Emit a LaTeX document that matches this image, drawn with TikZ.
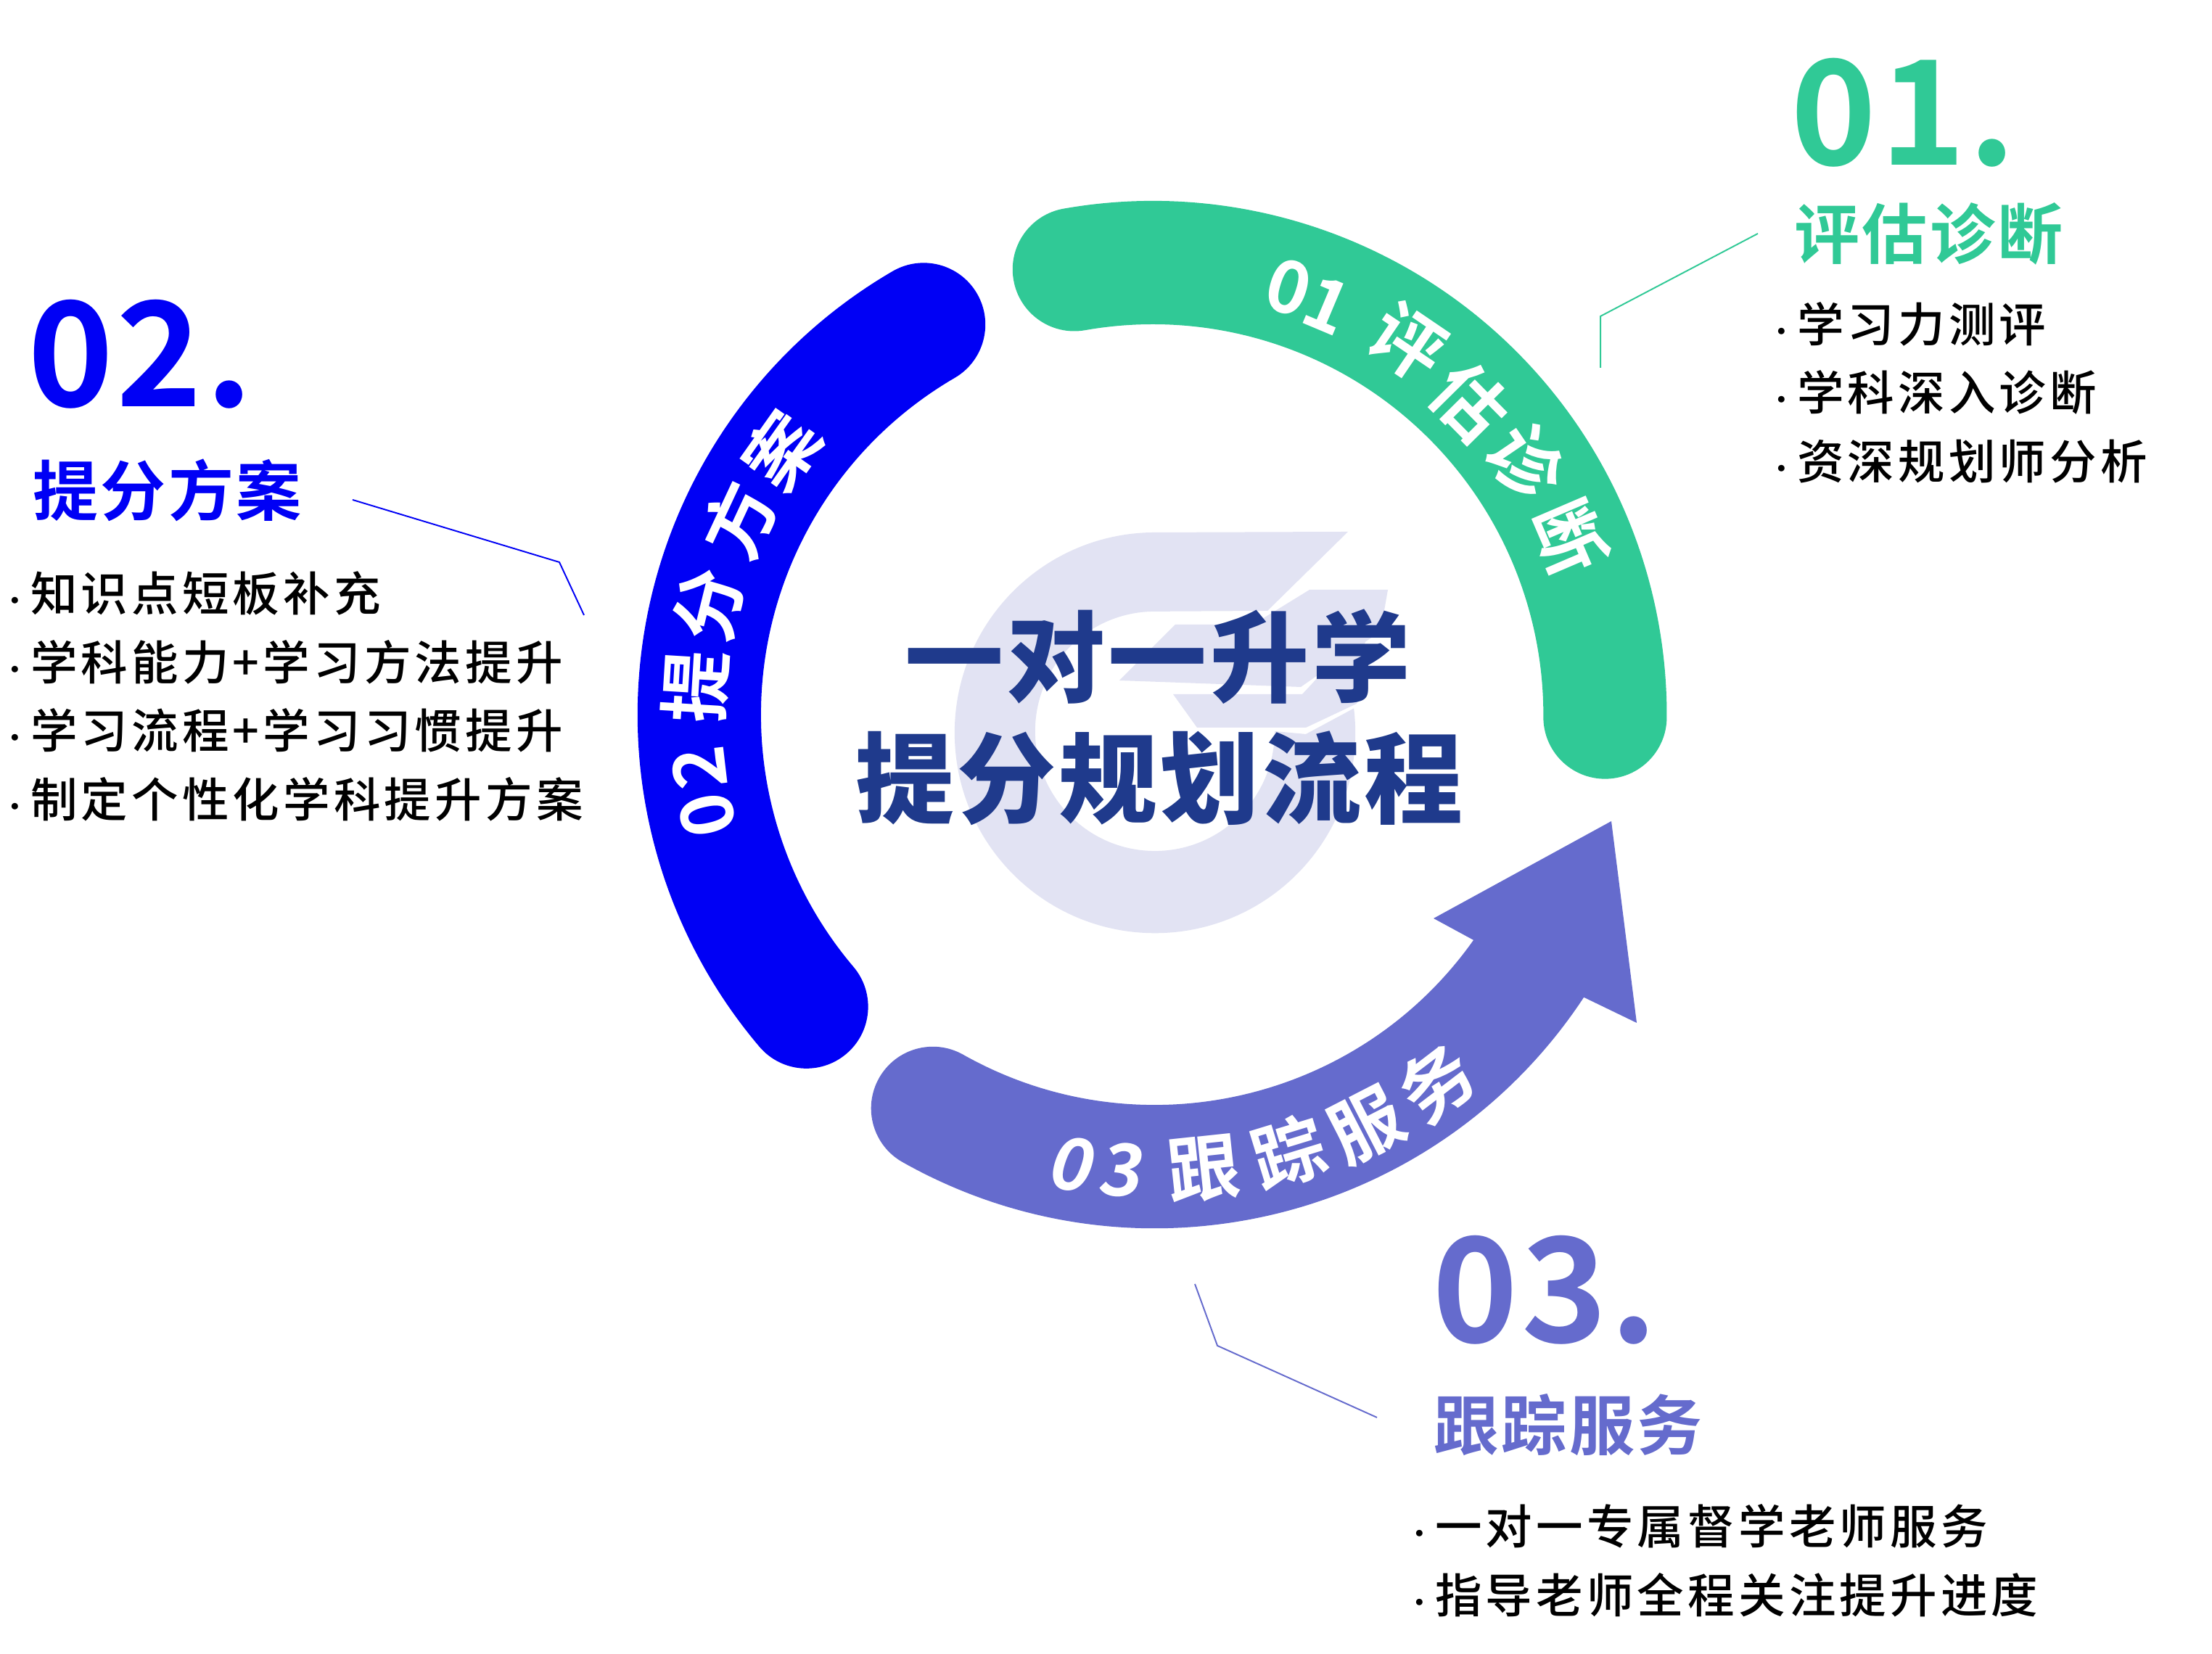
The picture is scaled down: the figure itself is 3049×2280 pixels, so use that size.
\documentclass[tikz,border=0pt]{standalone}
\usepackage{fontspec}
\setmainfont{Noto Sans CJK SC}
\newfontfamily\ftitle[LetterSpace=3]{Noto Sans CJK SC Black}
\newfontfamily\fhead[LetterSpace=3.5]{Noto Sans CJK SC Bold}
\newfontfamily\fnum[LetterSpace=2]{Noto Sans CJK SC Bold}
\newfontfamily\farc{Noto Sans CJK SC Bold}
\newfontfamily\flist[LetterSpace=8]{Noto Sans CJK SC Medium}
\newcommand{\bu}{{\fontsize{11}{11}\selectfont ·}\kern0.5pt }
\definecolor{cgreen}{HTML}{30C996}
\definecolor{cblue}{HTML}{0000F5}
\definecolor{cpurple}{HTML}{656BCD}
\definecolor{clogo}{HTML}{E2E3F3}
\definecolor{ctitle}{HTML}{1F3A8C}
\tikzset{
  band/.style={line width=1.7cm,line cap=round},
  titletext/.style={anchor=base,inner sep=0pt,text=ctitle,font=\ftitle\fontsize{38.7}{39}\selectfont},
  headtext/.style={anchor=base west,inner sep=0pt,font=\fhead\fontsize{25.6}{26}\selectfont},
  numtext/.style={anchor=base west,inner sep=0pt,font=\fnum\fontsize{57}{57}\selectfont},
  listtext/.style={anchor=base west,inner sep=0pt,text=black,font=\flist\fontsize{18.35}{19}\selectfont},
  arcchar/.style={inner sep=0pt,text=white,font=\farc\fontsize{28.4}{29}\selectfont},
  leader/.style={line width=0.55pt},
}
\begin{document}
\begin{tikzpicture}[x=0.01cm,y=0.01cm]
\useasboundingbox (0,0) rectangle (3049,2280);
\fill[white] (0,0) rectangle (3049,2280);
% watermark logo
\fill[clogo] (1858,1547) -- (1592,1546) arc[start angle=90,end angle=367,radius=2.76cm]
  -- (1800,1268) -- (1757,1272) arc[start angle=0,end angle=-270,radius=1.65cm] -- (1747,1438) -- cycle;
\fill[clogo] (1617,1323) -- (1795,1323) -- (1885,1420) -- (1870,1310) -- (1800,1277) -- (1757,1277) -- (1650,1277) -- cycle;
\fill[clogo] (1620,1419) -- (1727,1419) -- (1805,1467) -- (1913,1467) -- (1903,1410) -- (1793,1333) -- (1543,1342) -- cycle;
% ring
\draw[band,cgreen] (1589,1295) ++(100:623) arc[start angle=100,end angle=-0.3,radius=6.23cm];
\draw[band,cblue] (1586,1295) ++(120.2:622) arc[start angle=120.2,end angle=220.3,radius=6.22cm];
\fill[cpurple] (1592,1295) ++(-35.3:538)
  arc[start angle=-35.3,end angle=-119.4,radius=5.38cm]
  arc[start angle=60.6,end angle=240.6,radius=0.85cm]
  arc[start angle=240.6,end angle=326.6,radius=7.08cm]
  -- (2256,870) -- (2221,1148) -- (1976,1014) -- cycle;
% ring captions
\foreach \ch/\ang/\rr [count=\i] in {0/72.6/617,1/67.2/612,评/55.8/620,估/44.7/612,诊/34.2/618,断/23.2/621}
  {\node[arcchar,rotate=\ang-90] (g\i) at ([shift={(\ang:\rr)}]1592,1295) {\ch};}
\foreach \ch/\ang/\rr [count=\i] in {0/192.7/633,2/186.7/633,提/176.5/635,分/166.2/633,方/155/633,案/144.7/631}
  {\node[arcchar,rotate=\ang-90] (b\i) at ([shift={(\ang:\rr)}]1592,1295) {\ch};}
\foreach \ch/\ang/\rr [count=\i] in {0/259.7/630,3/266/630}
  {\begin{scope}[shift={(1592,1295)},shift={(\ang:\rr)},rotate=\ang-270,xslant=0.14]
    \node[arcchar,transform shape] (pd\i) at (0,0) {\ch};
  \end{scope}}
\foreach \ch/\ang/\rr [count=\i] in {跟/276.1/630,踪/287/631,服/297.2/637,务/307.4/639}
  {\node[arcchar,rotate=\ang-270] (p\i) at ([shift={(\ang:\rr)}]1592,1295) {\ch};}
% title
\node[titletext] (t1) at (1596,1322) {一对一升学};
\node[titletext] (t2) at (1598,1155) {提分规划流程};
% section 01
\node[numtext,text=cgreen] (n1) at (2468,2052) {01.};
\node[headtext,text=cgreen] (h1) at (2473,1923) {评估诊断};
\node[listtext] (l11) at (2436,1808) {\bu 学习力测评};
\node[listtext] (l12) at (2436,1714) {\bu 学科深入诊断};
\node[listtext] (l13) at (2436,1619) {\bu 资深规划师分析};
\coordinate (a1) at (2423,1958);
\coordinate (a2) at (2206,1844);
\coordinate (a3) at (2206,1773);
\draw[leader,cgreen] (a1) -- (a2) -- (a3);
% section 02
\node[numtext,text=cblue] (n2) at (38,1719) {02.};
\node[headtext,text=cblue] (h2) at (45,1569) {提分方案};
\node[listtext] (l21) at (1,1437) {\bu 知识点短板补充};
\node[listtext] (l22) at (1,1342) {\bu 学科能力+学习方法提升};
\node[listtext] (l23) at (1,1248) {\bu 学习流程+学习习惯提升};
\node[listtext] (l24) at (1,1153) {\bu 制定个性化学科提升方案};
\coordinate (b1) at (486,1591);
\coordinate (b2) at (771,1505);
\coordinate (b3) at (805,1432);
\draw[leader,cblue] (b1) -- (b2) -- (b3);
% section 03
\node[numtext,text=cpurple] (n3) at (1974,429) {03.};
\node[headtext,text=cpurple] (h3) at (1976,281) {跟踪服务};
\node[listtext] (l31) at (1937,151) {\bu 一对一专属督学老师服务};
\node[listtext] (l32) at (1937,56) {\bu 指导老师全程关注提升进度};
\coordinate (c1) at (1647,510);
\coordinate (c2) at (1678,425);
\coordinate (c3) at (1898,326);
\draw[leader,cpurple] (c1) -- (c2) -- (c3);
\end{tikzpicture}
\end{document}
